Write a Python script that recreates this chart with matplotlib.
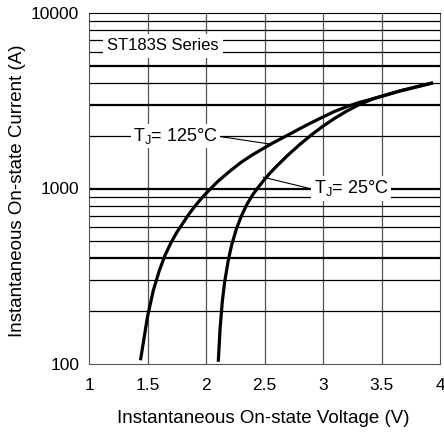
import matplotlib
matplotlib.use("Agg")
import matplotlib.pyplot as plt

# ===== DADOS =====
V_125 = [1.44, 1.50, 1.55, 1.60, 1.65, 1.70, 1.75, 1.80, 1.85, 1.90, 1.95, 2.00, 2.05, 2.10,
         2.20, 2.30, 2.40, 2.56, 2.72, 2.85, 2.97, 3.10, 3.20, 3.30, 3.43, 3.66, 3.94]
I_125 = [105, 186, 263, 339, 417, 490, 562, 631, 708, 785, 861, 938, 1014, 1096,
         1250, 1410, 1560, 1800, 2050, 2280, 2500, 2750, 2920, 3080, 3250, 3600, 4000]

V_25 = [2.105, 2.12, 2.14, 2.16, 2.19, 2.22, 2.26, 2.30, 2.35, 2.40, 2.45, 2.50, 2.55, 2.60,
        2.70, 2.80, 2.90, 3.00, 3.10, 3.20, 3.30, 3.43, 3.66, 3.94]
I_25 = [103, 158, 229, 295, 389, 479, 589, 692, 813, 923, 1023, 1127, 1230, 1333,
        1549, 1778, 2018, 2265, 2512, 2754, 2985, 3250, 3600, 4000]

X_TICKS = [1, 1.5, 2, 2.5, 3, 3.5, 4]
X_TICK_LABELS = ["1", "1.5", "2", "2.5", "3", "3.5", "4"]
Y_TICKS = [100, 1000, 10000]
Y_TICK_LABELS = ["100", "1000", "10000"]
GRID_I = [200, 300, 400, 500, 600, 700, 800, 900, 1000,
          2000, 3000, 4000, 5000, 6000, 7000, 8000, 9000]
GRID_I_THICK = [400, 1000, 3000, 5000]

plt.rcParams["font.family"] = ["Liberation Sans", "DejaVu Sans"]
plt.rcParams["mathtext.fontset"] = "custom"
plt.rcParams["mathtext.rm"] = "Liberation Sans"
plt.rcParams["mathtext.it"] = "Liberation Sans"

fig = plt.figure(figsize=(4.44, 4.34), dpi=100)
ax = fig.add_axes([89 / 444, 1 - 364 / 434, 351 / 444, 351 / 434])

ax.set_yscale("log")
ax.set_xlim(1, 4)
ax.set_ylim(100, 10000)

# grade
for v in X_TICKS[1:-1]:
    ax.axvline(v, color="#555555", lw=0.9, zorder=1)
for i in GRID_I:
    lw = 1.6 if i in GRID_I_THICK else 0.9
    ax.axhline(i, color="black", lw=lw, zorder=1)

# curvas
ax.plot(V_125, I_125, color="black", lw=2.3, solid_capstyle="butt", zorder=3)
ax.plot(V_25, I_25, color="black", lw=2.3, solid_capstyle="butt", zorder=3)

# linhas de chamada
ax.plot([2.07, 2.55], [2000, 1790], color="black", lw=0.8, zorder=2)
ax.plot([2.49, 2.90], [1160, 995], color="black", lw=0.8, zorder=2)

box = dict(facecolor="white", edgecolor="none", pad=1.5)
ax.text(1.74, 2000, "T$_\\mathrm{J}$= 125°C", fontsize=13, ha="center", va="center",
        bbox=box, zorder=4)
ax.text(3.24, 1000, "T$_\\mathrm{J}$= 25°C", fontsize=13, ha="center", va="center",
        bbox=box, zorder=4)
ax.text(1.63, 6500, "ST183S Series", fontsize=12, ha="center", va="center",
        bbox=dict(facecolor="white", edgecolor="none", pad=3), zorder=4)

ax.set_xticks(X_TICKS)
ax.set_xticklabels(X_TICK_LABELS)
ax.set_yticks(Y_TICKS)
ax.set_yticklabels(Y_TICK_LABELS)
ax.yaxis.set_minor_locator(matplotlib.ticker.NullLocator())
ax.tick_params(length=0, labelsize=12.5)
ax.tick_params(axis="x", pad=10)
ax.tick_params(axis="y", pad=7)

for s in ["left", "bottom", "right"]:
    ax.spines[s].set_color("#555555")
ax.spines["top"].set_color("black")

ax.set_xlabel("Instantaneous On-state Voltage (V)", fontsize=13.5)
ax.set_ylabel("Instantaneous On-state Current (A)", fontsize=13.5)
ax.xaxis.set_label_coords(0.496, -0.131)
ax.yaxis.set_label_coords(-0.179, 0.493)

fig.savefig("out.png", dpi=100)
